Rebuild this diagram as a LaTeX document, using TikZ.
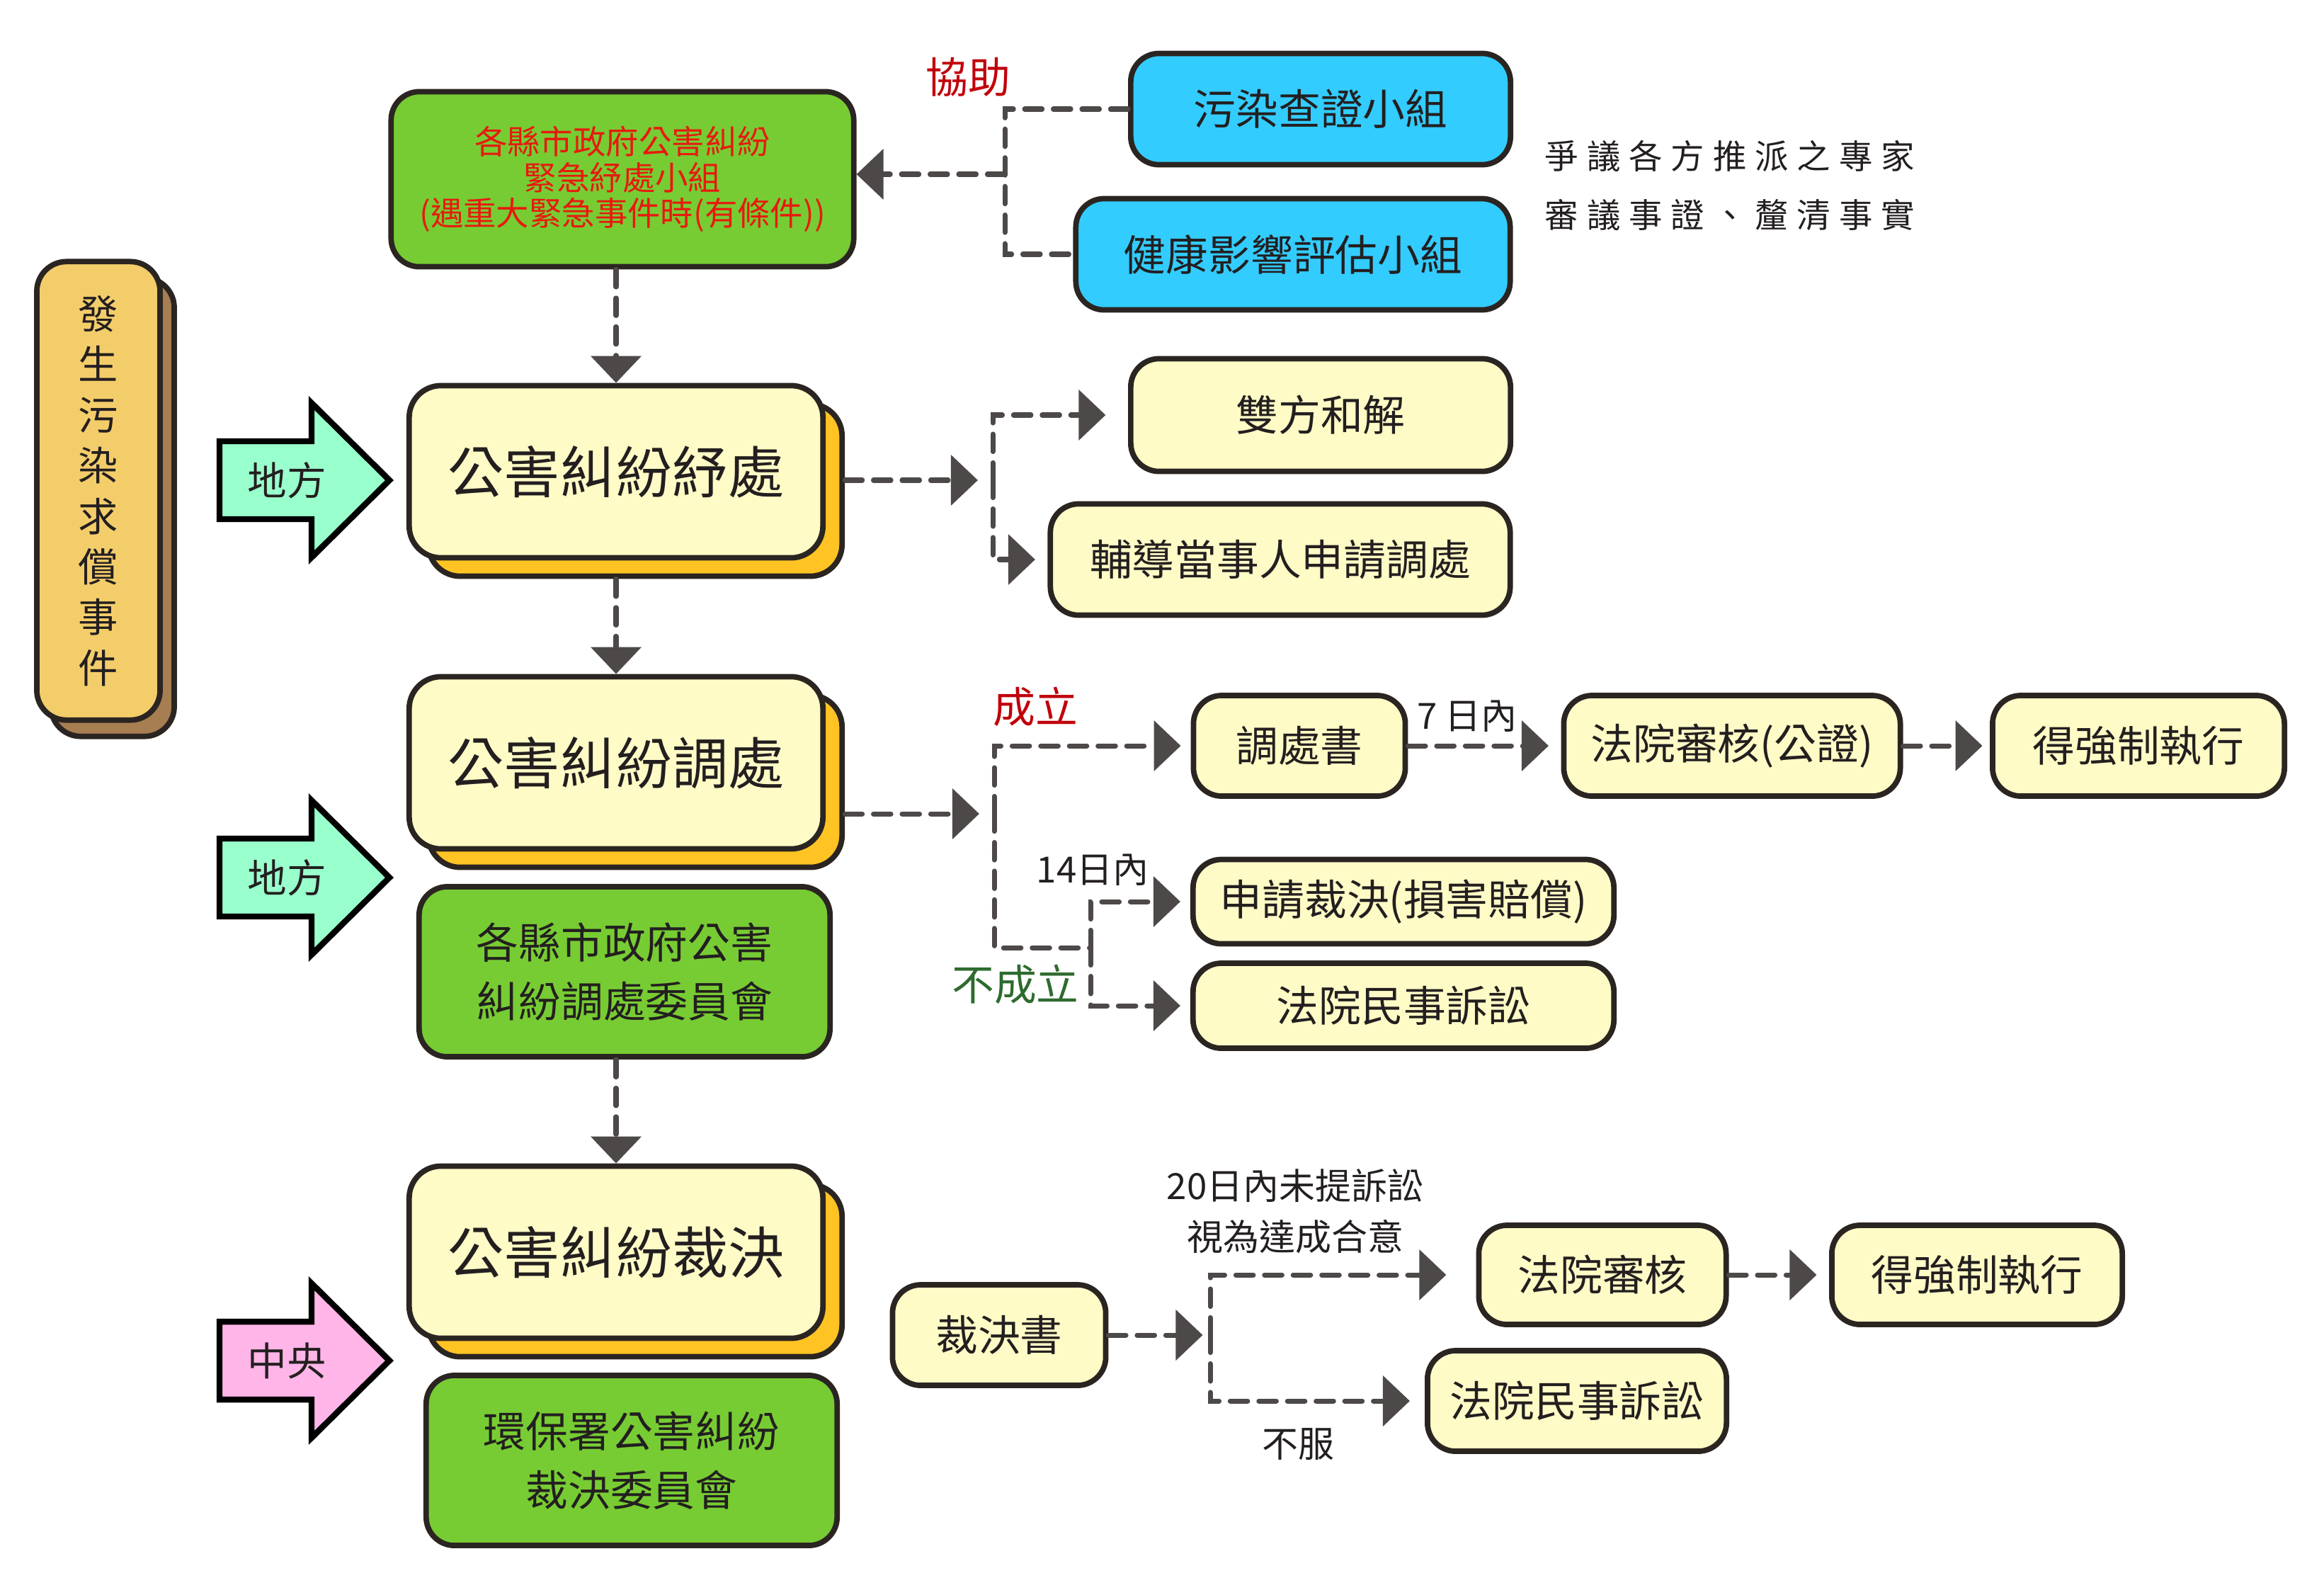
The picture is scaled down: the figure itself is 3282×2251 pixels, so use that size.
\documentclass[tikz,border=0pt]{standalone}
\usepackage{fontspec}
\setmainfont{Noto Sans CJK TC}
\newfontfamily\notefont[LetterSpace=25]{Noto Sans CJK TC}
\usetikzlibrary{arrows.meta}
\definecolor{linecol}{HTML}{2B2522}
\definecolor{flowgray}{HTML}{4D4948}
\definecolor{textcol}{HTML}{231F20}
\definecolor{paleyellow}{HTML}{FFFBC6}
\definecolor{golden}{HTML}{FFC423}
\definecolor{grassgreen}{HTML}{77CC33}
\definecolor{skyblue}{HTML}{33CCFF}
\definecolor{mint}{HTML}{99FFCC}
\definecolor{pinkish}{HTML}{FFB5E8}
\definecolor{eventfill}{HTML}{F4CD6B}
\definecolor{eventback}{HTML}{A77E52}
\definecolor{alertred}{HTML}{E8190F}
\definecolor{assistred}{HTML}{C0000A}
\definecolor{failgreen}{HTML}{2E6B2E}
\tikzset{
box/.style={
	  draw=linecol, line width=2.2pt, rounded corners=0.4cm, align=center,
	    inner sep=0pt, text=textcol, font=\fontsize{17}{23.8}\selectfont},
pale/.style={box, fill=paleyellow},
team/.style={box, fill=skyblue, minimum height=1.57cm},
committee/.style={box, fill=grassgreen, minimum width=5.8cm, minimum height=2.4cm},
mainbox/.style={box, fill=paleyellow, rounded corners=0.45cm, minimum width=5.84cm,
    minimum height=2.43cm, font=\fontsize{22.5}{27}\selectfont},
mainback/.style={mainbox, fill=golden},
flow/.style={draw=flowgray, line width=2pt, dash pattern=on 7pt off 4.5pt,
    line cap=round, -{Triangle[length=10.8pt,width=20pt]}},
bracket/.style={flow, -},
tag/.style={font=\fontsize{17}{20}\selectfont},
small/.style={text=textcol, font=\fontsize{14.5}{20.4}\selectfont, align=center}
}

\begin{document}
\begin{tikzpicture}[x=0.01cm, y=-0.01cm]
	\useasboundingbox (0,0) rectangle (3282,2251);
	% event
	\node[box, fill=eventback, minimum width=1.74cm, minimum height=6.47cm, rounded corners=0.42cm] (event-bg) at (159,716) {};
	\node[box, fill=eventfill, minimum width=1.74cm, minimum height=6.47cm, rounded corners=0.42cm,
	font=\fontsize{16}{20.3}\selectfont] (event) at (139,693) {發\\生\\污\\染\\求\\償\\事\\件};
	% level arrows
	\foreach \yc/\col/\txt [count=\i] in {678/mint/地方, 1239/mint/地方, 1921/pinkish/中央} {
		\draw[line width=2.4pt, draw=black, fill=\col, line join=miter]
		(310,\yc-55) -- (440,\yc-55) -- (440,\yc-109) -- (550,\yc) -- (440,\yc+109) -- (440,\yc+55) -- (310,\yc+55) -- cycle;
		\node[font=\fontsize{15.8}{18}\selectfont, text=textcol] (level\i) at (405,\yc) {\txt};
	}
	% emergency group and helpers
	\node[box, fill=grassgreen, minimum width=6.53cm, minimum height=2.47cm, text=alertred,
	font=\fontsize{13.2}{14.4}\selectfont] (jinji) at (879,253) {各縣市政府公害糾紛\\緊急紓處小組\\(遇重大緊急事件時(有條件))};
	\node[team, minimum width=5.36cm] (wuran) at (1865,154) {污染查證小組};
	\node[team, minimum width=6.13cm] (jiankang) at (1826,359) {健康影響評估小組};
	\node[text=textcol, align=center, font=\notefont\fontsize{13.5}{23.8}\selectfont] (expert) at (2443,262) {爭議各方推派之專家\\審議事證、釐清事實};
	\node[tag, text=assistred] (xiezhu-label) at (1367,109) {協助};
	\coordinate (xiezhu) at (1419,246);
	% main steps
	\node[mainback] (shuchu-bg) at (897,692) {};
	\node[mainbox] (shuchu) at (870,666) {公害糾紛紓處};
	\node[mainback] (tiaochu-bg) at (897,1103) {};
	\node[mainbox] (tiaochu) at (870,1077) {公害糾紛調處};
	\node[committee] (tiaochu-wei) at (882,1372) {各縣市政府公害\\糾紛調處委員會};
	\node[mainback] (caijue-bg) at (897,1794) {};
	\node[mainbox] (caijue) at (870,1768) {公害糾紛裁決};
	\node[committee] (caijue-wei) at (892,2062) {環保署公害糾紛\\裁決委員會};
	% outcomes of shuchu
	\node[pale, minimum width=5.36cm, minimum height=1.59cm] (hejie) at (1865,586) {雙方和解};
	\node[pale, minimum width=6.49cm, minimum height=1.57cm] (fudao) at (1808,790) {輔導當事人申請調處};
	% outcomes of tiaochu
	\node[pale, minimum width=2.99cm, minimum height=1.42cm] (tiaochushu) at (1835,1053) {調處書};
	\node[pale, minimum width=4.75cm, minimum height=1.42cm] (gongzheng) at (2446,1053) {法院審核(公證)};
	\node[pale, minimum width=4.12cm, minimum height=1.42cm] (zhixing1) at (3020,1053) {得強制執行};
	\node[pale, minimum width=5.94cm, minimum height=1.19cm] (shenqing) at (1982,1273) {申請裁決(損害賠償)};
	\node[pale, minimum width=5.94cm, minimum height=1.2cm] (minshi1) at (1982,1420) {法院民事訴訟};
	\node[tag, text=assistred] (chengli) at (1462,998) {成立};
	\node[tag, text=failgreen] (bu-chengli) at (1434,1390) {不成立};
	\node[small] (qiri) at (2072,1011) {7 日內};
	\node[small] (shisi) at (1543,1228) {14日內};
	% outcomes of caijue
	\node[pale, minimum width=3.01cm, minimum height=1.42cm] (caijueshu) at (1411,1885) {裁決書};
	\node[pale, minimum width=3.49cm, minimum height=1.4cm] (shenhe) at (2263,1800) {法院審核};
	\node[pale, minimum width=4.1cm, minimum height=1.4cm] (zhixing2) at (2792,1800) {得強制執行};
	\node[pale, minimum width=4.22cm, minimum height=1.42cm] (minshi2) at (2227,1978) {法院民事訴訟};
	\node[small] (ershi) at (1829,1710) {20日內未提訴訟\\視為達成合意};
	\node[small] (bufu) at (1833,2039) {不服};
	\coordinate (fork1) at (1402,678);
	\coordinate (fork2) at (1404,1149);
	\coordinate (fork3) at (1540,1338);
	\coordinate (fork4) at (1709,1885);
	% connectors
	\draw[flow] (shuchu.north |- jinji.south) -- (shuchu.north);
	\draw[flow] (shuchu.south |- shuchu-bg.south) -- (tiaochu.north);
	\draw[flow] (tiaochu.north |- tiaochu-wei.south) -- (caijue.north);
	\draw[bracket] (wuran.west) -| (xiezhu) |- (jiankang.west);
	\draw[flow] (xiezhu) -- (jinji.east |- xiezhu);
	\draw[flow, shorten >=6pt] (shuchu-bg.east |- fork1) -- (fork1);
	\draw[flow, shorten >=9pt] (fork1) |- (hejie.west);
	\draw[flow, shorten >=5pt] (fork1) |- (fudao.west);
	\draw[flow, shorten >=6pt] (tiaochu-bg.east |- fork2) -- (fork2);
	\draw[flow, shorten >=4pt] (fork2) |- (tiaochushu.west);
	\draw[bracket] (fork2) |- (fork3);
	\draw[flow, shorten >=4pt] (fork3) |- (shenqing.west);
	\draw[flow, shorten >=4pt] (fork3) |- (minshi1.west);
	\draw[flow, shorten >=5pt] (tiaochushu) -- (gongzheng);
	\draw[flow, shorten >=3pt] (gongzheng) -- (zhixing1);
	\draw[flow, shorten >=3pt] (caijueshu) -- (fork4);
	\draw[flow, shorten >=12pt] (fork4) |- (shenhe.west);
	\draw[flow, shorten >=6pt] (fork4) |- (minshi2.west);
	\draw[flow, shorten >=5pt] (shenhe) -- (zhixing2);
\end{tikzpicture}
\end{document}
